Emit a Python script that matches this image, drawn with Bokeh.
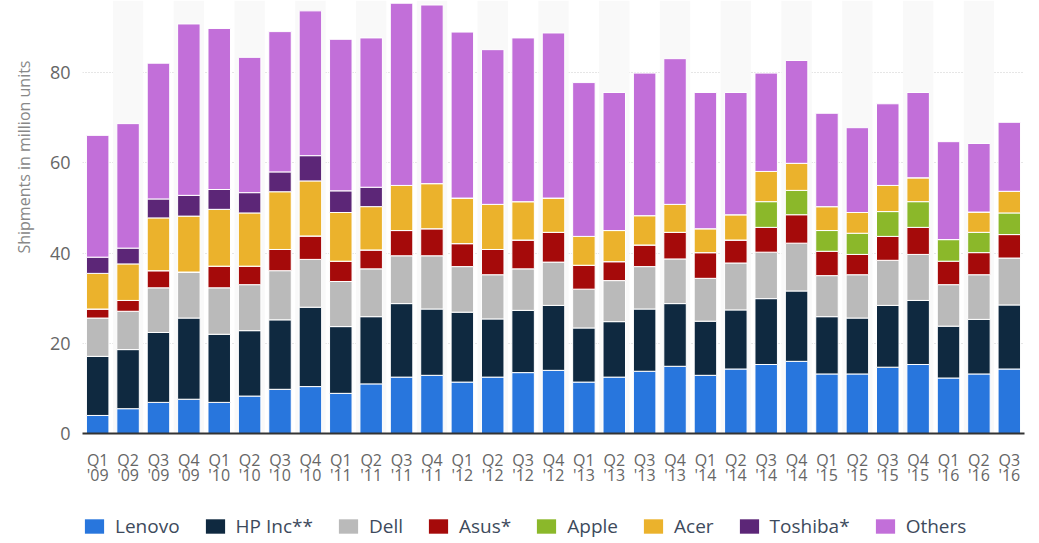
from bokeh.plotting import figure
from bokeh.layouts import column
from bokeh.models import Legend, LegendItem, FixedTicker, Title, Range1d, LinearAxis
from bokeh.embed import file_html
from bokeh.resources import INLINE

quarter_labels = ["Q1", "Q2", "Q3", "Q4", "Q1", "Q2", "Q3", "Q4", "Q1", "Q2", "Q3", "Q4",
                  "Q1", "Q2", "Q3", "Q4", "Q1", "Q2", "Q3", "Q4", "Q1", "Q2", "Q3", "Q4",
                  "Q1", "Q2", "Q3", "Q4", "Q1", "Q2", "Q3"]
year_labels = ["'09", "'09", "'09", "'09", "'10", "'10", "'10", "'10", "'11", "'11", "'11", "'11",
               "'12", "'12", "'12", "'12", "'13", "'13", "'13", "'13", "'14", "'14", "'14", "'14",
               "'15", "'15", "'15", "'15", "'16", "'16", "'16"]

lenovo = [4.0, 5.5, 6.9, 7.6, 6.9, 8.3, 9.8, 10.4, 8.9, 11.0, 12.5, 12.9, 11.4, 12.5, 13.5, 14.0,
          11.4, 12.5, 13.8, 14.9, 12.9, 14.3, 15.3, 16.0, 13.2, 13.2, 14.7, 15.3, 12.3, 13.2, 14.3]
hp = [13.1, 13.1, 15.5, 18.0, 15.1, 14.5, 15.4, 17.6, 14.8, 14.9, 16.3, 14.7, 15.5, 12.9, 13.8, 14.4,
      12.0, 12.3, 13.8, 13.9, 12.0, 13.1, 14.6, 15.6, 12.7, 12.4, 13.7, 14.2, 11.5, 12.1, 14.2]
dell = [8.5, 8.5, 9.9, 10.2, 10.3, 10.2, 10.9, 10.6, 10.0, 10.6, 10.6, 11.8, 10.1, 9.8, 9.2, 9.6,
        8.6, 9.1, 9.4, 9.9, 9.5, 10.4, 10.3, 10.6, 9.1, 9.6, 10.0, 10.2, 9.2, 9.9, 10.4]
asus = [2.0, 2.4, 3.8, 0.0, 4.8, 4.1, 4.7, 5.2, 4.5, 4.2, 5.6, 6.0, 5.1, 5.6, 6.4, 6.6,
        5.3, 4.2, 4.8, 5.9, 5.7, 5.1, 5.5, 6.3, 5.4, 4.5, 5.3, 6.0, 5.2, 4.9, 5.2]
apple = [0.0, 0.0, 0.0, 0.0, 0.0, 0.0, 0.0, 0.0, 0.0, 0.0, 0.0, 0.0, 0.0, 0.0, 0.0, 0.0,
         0.0, 0.0, 0.0, 0.0, 0.0, 0.0, 5.7, 5.4, 4.6, 4.7, 5.5, 5.7, 4.8, 4.5, 4.8]
acer = [7.9, 8.1, 11.7, 12.4, 12.6, 11.8, 12.8, 12.2, 10.8, 9.6, 10.0, 10.0, 10.1, 10.0, 8.5, 7.6,
        6.4, 6.9, 6.5, 6.2, 5.3, 5.6, 6.7, 6.0, 5.3, 4.6, 5.8, 5.3, 0.0, 4.5, 4.8]
toshiba = [3.6, 3.5, 4.2, 4.6, 4.4, 4.5, 4.4, 5.6, 4.8, 4.3, 0.0, 0.0, 0.0, 0.0, 0.0, 0.0,
           0.0, 0.0, 0.0, 0.0, 0.0, 0.0, 0.0, 0.0, 0.0, 0.0, 0.0, 0.0, 0.0, 0.0, 0.0]
others = [27.0, 27.6, 30.1, 38.0, 35.7, 30.0, 31.1, 32.1, 33.6, 33.1, 40.4, 39.6, 36.8, 34.3, 36.3, 36.6,
          34.1, 30.6, 31.6, 32.3, 30.2, 27.1, 21.8, 22.8, 20.7, 18.8, 18.1, 18.9, 21.7, 15.2, 15.3]

series_keys = ["lenovo", "hp", "dell", "asus", "apple", "acer", "toshiba", "others"]
series_names = ["Lenovo", "HP Inc**", "Dell", "Asus*", "Apple", "Acer", "Toshiba*", "Others"]
series_colors = ["#2876dd", "#0f2940", "#bababa", "#a50a0a", "#8bb82a", "#ebb22c", "#5c2677", "#c26fd9"]
y_ticks = [0, 20, 40, 60, 80]
y_max = 96
y_title = "Shipments in million units"

FONT = "Open Sans"

n = len(quarter_labels)
xs = list(range(n))
data = dict(x=xs, lenovo=lenovo, hp=hp, dell=dell, asus=asus, apple=apple,
            acer=acer, toshiba=toshiba, others=others)

p = figure(x_range=Range1d(-0.5, n - 0.5), y_range=Range1d(0, y_max), width=1039, height=500,
           output_backend="svg", toolbar_location=None,
           min_border_left=82, min_border_right=15, min_border_top=0, min_border_bottom=67)
p.outline_line_color = None
p.background_fill_color = "white"

# alternating column bands
band_x = xs[1::2]
p.vbar(x=band_x, top=[y_max] * len(band_x), width=1.0, fill_color="#f9f9f9", line_color=None)

renderers = p.vbar_stack(series_keys, x="x", width=0.74, source=data,
                         color=series_colors, line_color="white", line_width=1)

p.xgrid.visible = False
p.ygrid.grid_line_color = "#cccccc"
p.ygrid.grid_line_dash = "1 2"
p.ygrid.grid_line_width = 1
p.ygrid.ticker = FixedTicker(ticks=y_ticks[1:])

p.yaxis.ticker = FixedTicker(ticks=y_ticks)
p.yaxis.axis_line_color = None
p.yaxis.major_tick_line_color = None
p.yaxis.minor_tick_line_color = None
p.yaxis.major_tick_out = 0
p.yaxis.major_tick_in = 0
p.yaxis.major_label_text_font = FONT
p.yaxis.major_label_text_font_size = "18px"
p.yaxis.major_label_text_color = "#666666"
p.yaxis.major_label_standoff = 12

xa = p.xaxis[0]
xa.ticker = FixedTicker(ticks=xs)
xa.major_label_overrides = {i: lab for i, lab in zip(xs, quarter_labels)}
xa.axis_line_color = "#333333"
xa.axis_line_width = 2
xa.major_tick_line_color = None
xa.minor_tick_line_color = None
xa.major_tick_out = 0
xa.major_tick_in = 0
xa.major_label_text_font = FONT
xa.major_label_text_font_size = "16px"
xa.major_label_text_color = "#666666"
xa.major_label_standoff = 15

xa2 = LinearAxis(ticker=FixedTicker(ticks=xs),
                 major_label_overrides={i: lab for i, lab in zip(xs, year_labels)})
xa2.axis_line_color = None
xa2.major_tick_line_color = None
xa2.minor_tick_line_color = None
xa2.major_tick_out = 0
xa2.major_tick_in = 0
xa2.major_label_text_font = FONT
xa2.major_label_text_font_size = "16px"
xa2.major_label_text_color = "#666666"
xa2.major_label_standoff = -10
p.add_layout(xa2, "below")

ytitle = Title(text=y_title, align="right", vertical_align="top", offset=60, standoff=20,
               text_font=FONT, text_font_size="16px", text_color="#888888",
               text_font_style="normal")
p.add_layout(ytitle, "left")

# legend strip below the chart (zero-height swatch glyphs, legend only)
lg = figure(width=1039, height=43, output_backend="svg", toolbar_location=None,
            x_range=Range1d(0, 1), y_range=Range1d(0, 1),
            x_axis_location=None, y_axis_location=None, min_border=0)
lg.outline_line_color = None
lg.grid.visible = False
items = []
for nm, col in zip(series_names, series_colors):
    r = lg.vbar(x=[0.5], top=[0], bottom=[0], width=0.001, fill_color=col, line_color=None)
    items.append(LegendItem(label=nm, renderers=[r]))
legend = Legend(items=items, orientation="horizontal", location=(0, 4),
                label_text_font=FONT, label_text_font_size="19px", label_text_color="#3d4a5c",
                glyph_width=24, glyph_height=18, label_standoff=9, spacing=23,
                border_line_color=None, background_fill_alpha=0, padding=0, margin=0)
lg.add_layout(legend)

layout = column(p, lg, spacing=0)
open("out.html", "w").write(file_html(layout, INLINE))
